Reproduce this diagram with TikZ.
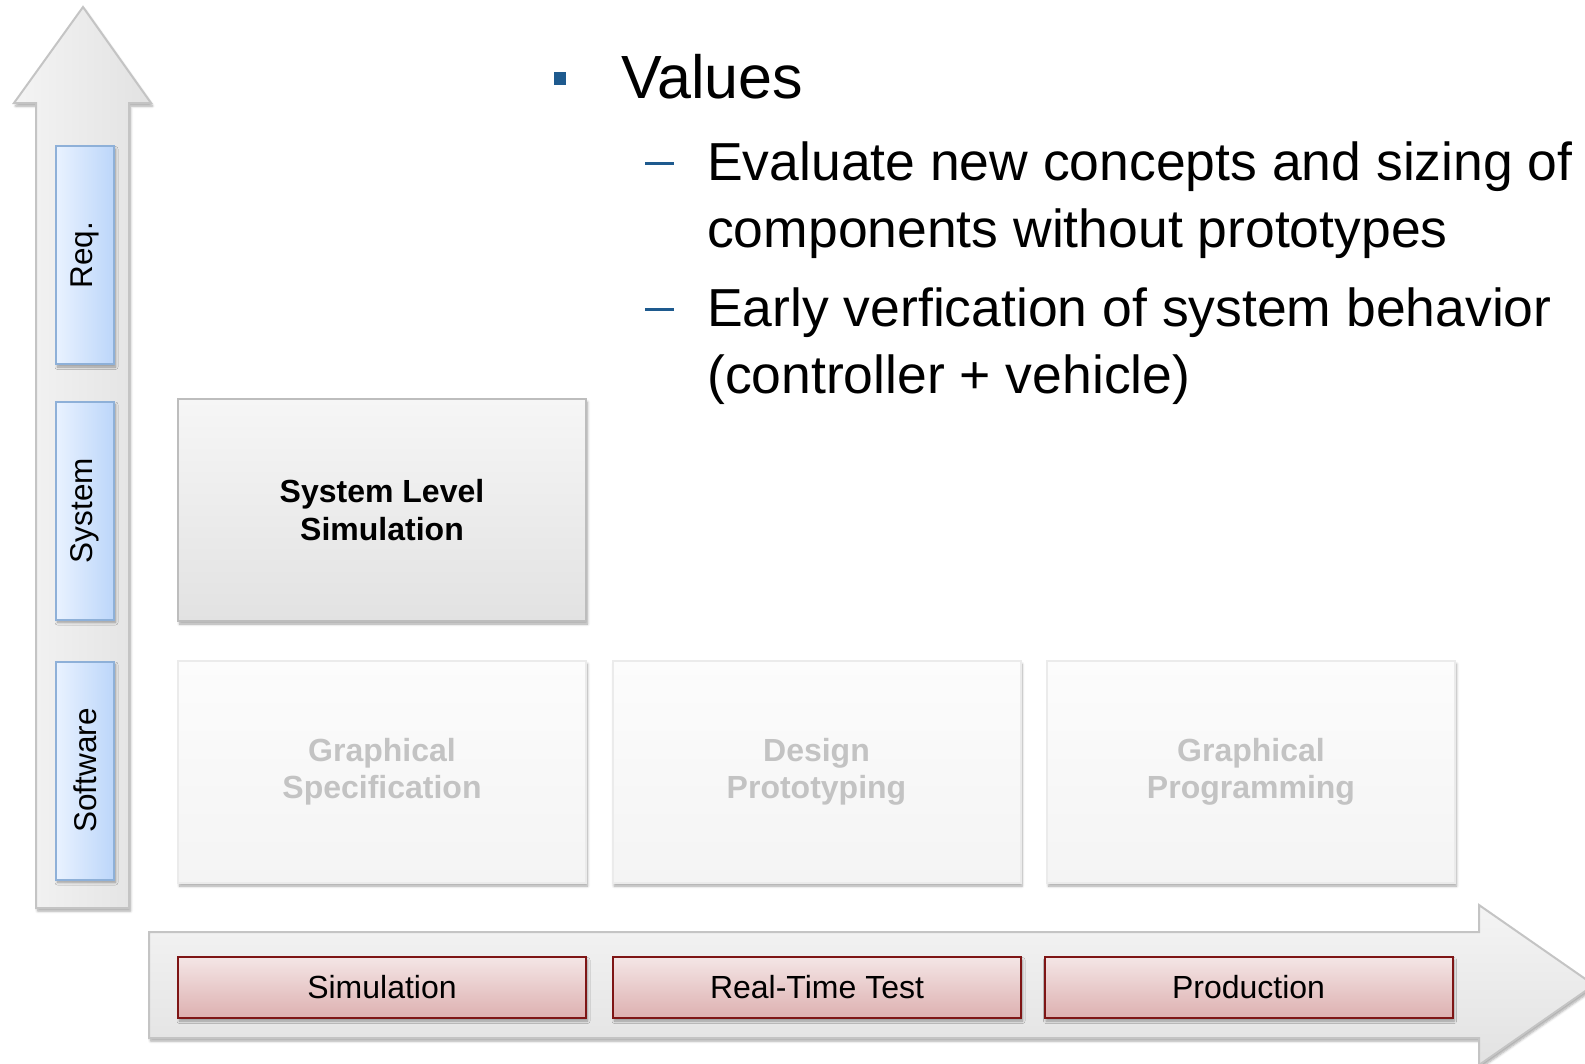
\documentclass[tikz,border=0pt]{standalone}
\usepackage{fontspec}
\usepackage{graphicx}
\setmainfont{Liberation Sans}
\usetikzlibrary{shadows.blur}

\definecolor{arrowline}{HTML}{C4C4C4}
\definecolor{arrowlight}{HTML}{F4F4F4}
\definecolor{arrowdark}{HTML}{E2E2E2}
\definecolor{bluelight}{HTML}{E9F2FF}
\definecolor{bluedark}{HTML}{BCD6FA}
\definecolor{blueline}{HTML}{8EB0D8}
\definecolor{greylight}{HTML}{F6F6F6}
\definecolor{greydark}{HTML}{E2E2E2}
\definecolor{greyline}{HTML}{BDBDBD}
\definecolor{palelight}{HTML}{FCFCFC}
\definecolor{paledark}{HTML}{F4F4F4}
\definecolor{paleline}{HTML}{EBEBEB}
\definecolor{paletext}{HTML}{C3C3C3}
\definecolor{redlight}{HTML}{F4E6E6}
\definecolor{reddark}{HTML}{DDB0B0}
\definecolor{redline}{HTML}{7E1515}
\definecolor{bulletblue}{HTML}{1E5A8E}

% left-to-right gradients, stretched to the shape's own width
\pgfdeclarehorizontalshading{bluegrad}{100bp}{color(0bp)=(bluelight); color(25bp)=(bluelight);
  color(75bp)=(bluedark); color(100bp)=(bluedark)}
\pgfdeclarehorizontalshading{greygrad}{100bp}{color(0bp)=(arrowlight); color(25bp)=(arrowlight);
  color(75bp)=(arrowdark); color(100bp)=(arrowdark)}

\newcommand{\uptext}[1]{\rotatebox{90}{#1}}

\begin{document}
\begin{tikzpicture}[x=1pt,y=-1pt,
  softshadow/.style={blur shadow={shadow xshift=1.5pt,shadow yshift=-3pt,
      shadow blur radius=2.5pt,shadow blur steps=6,shadow opacity=35}},
  arrowshape/.style={draw=arrowline,line width=2pt,line join=miter,softshadow},
  levelbox/.style={draw=blueline,line width=2pt,shading=bluegrad,
      minimum width=58pt,minimum height=218pt,inner sep=0pt,
      font=\fontsize{31.5}{36}\selectfont,softshadow},
  activebox/.style={draw=greyline,line width=2pt,top color=greylight,bottom color=greydark,
      minimum width=408pt,minimum height=222pt,inner sep=0pt,align=center,
      font=\fontsize{32}{37.4}\selectfont\bfseries,softshadow},
  fadedbox/.style={activebox,top color=palelight,bottom color=paledark,draw=paleline,
      text=paletext},
  phasebox/.style={draw=redline,line width=2pt,top color=redlight,bottom color=reddark,
      minimum width=408pt,minimum height=61pt,inner sep=0pt,
      font=\fontsize{32}{36}\selectfont,softshadow},
  mainitem/.style={anchor=base west,inner sep=0pt,font=\fontsize{61}{67}\selectfont},
  subitem/.style={anchor=base west,inner sep=0pt,font=\fontsize{53.5}{67}\selectfont},
  subdash/.style={fill=bulletblue,inner sep=0pt,minimum width=29pt,minimum height=3pt},
]
\useasboundingbox (0,0) rectangle (1585,1063);
\clip (0,0) rectangle (1585,1063);

% vertical axis arrow (abstraction level)
\path[arrowshape,shading=greygrad]
  (36,908) -- (36,103) -- (14,103) -- (83,7) -- (151,103) -- (129,103) -- (129,908) -- cycle;

% horizontal axis arrow (development phase)
\path[arrowshape,top color=arrowlight,bottom color=arrowdark]
  (149,932) -- (1479,932) -- (1479,905) -- (1594,985) -- (1479,1065) -- (1479,1038) -- (149,1038) -- cycle;

% levels
\node[levelbox] (req) at (85,255) {\uptext{Req.}};
\node[levelbox] (system) at (85,510.5) {\uptext{System}};
\node[levelbox] (software) at (85,770.5) {\uptext{Software}};

% activities
\node[activebox] (sls) at (382,510) {System Level\\Simulation};
\node[fadedbox] (gspec) at (382,772) {Graphical\\Specification};
\node[fadedbox] (dproto) at (816.5,772) {Design\\Prototyping};
\node[fadedbox] (gprog) at (1251,772) {Graphical\\Programming};

% phases
\node[phasebox] (sim) at (382,987.5) {Simulation};
\node[phasebox] (rtt) at (817,987.5) {Real-Time Test};
\node[phasebox] (prod) at (1248.5,987.5) {Production};

% bullet list
\node[fill=bulletblue,inner sep=0pt,minimum width=12pt,minimum height=13pt] (bullet) at (560,78.5) {};
\node[mainitem] (values) at (621,98) {Values};
\node[subdash] (dashA) at (659.5,163) {};
\node[subitem] (itemA1) at (707,180) {Evaluate new concepts and sizing of};
\node[subitem] (itemA2) at (707,247) {components without prototypes};
\node[subdash] (dashB) at (659.5,309) {};
\node[subitem] (itemB1) at (707,326.5) {Early verfication of system behavior};
\node[subitem] (itemB2) at (707,393) {(controller + vehicle)};
\end{tikzpicture}
\end{document}
